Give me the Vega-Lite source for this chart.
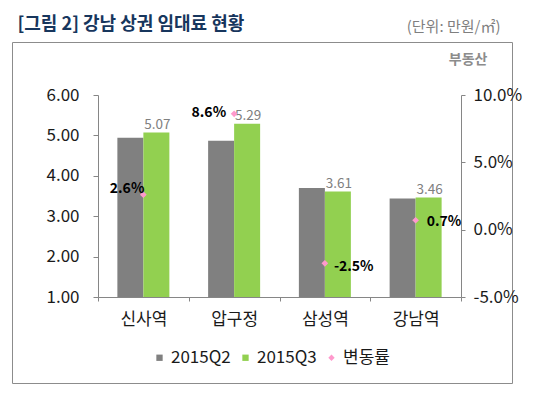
{
  "$schema": "https://vega.github.io/schema/vega-lite/v6.json",
  "width": 500,
  "height": 341,
  "autosize": "none",
  "padding": {"left": 12, "top": 42, "right": 33, "bottom": 14},
  "config": {
    "view": {"stroke": "#8c8c8c", "strokeWidth": 1},
    "font": "Noto Sans CJK KR",
    "locale": {"number": {"decimal": ".", "thousands": ",", "grouping": [3], "currency": ["", ""], "minus": "-"}},
    "axis": {"grid": false, "domainColor": "#868686", "tickColor": "#868686", "labelColor": "#1a1a1a", "labelFontSize": 17, "labelFont": "Noto Sans CJK KR", "titleFont": "Noto Sans CJK KR"},
    "legend": {"orient": "none", "legendX": 139, "legendY": 307, "direction": "horizontal", "labelFontSize": 17, "labelColor": "#1a1a1a", "labelOffset": 3, "columnPadding": 6, "symbolSize": 40, "symbolStrokeWidth": 0}
  },
  "datasets": {
    "rent": [
      {"station": "신사역", "series": "2015Q2", "value": 4.94},
      {"station": "신사역", "series": "2015Q3", "value": 5.07},
      {"station": "압구정", "series": "2015Q2", "value": 4.87},
      {"station": "압구정", "series": "2015Q3", "value": 5.29},
      {"station": "삼성역", "series": "2015Q2", "value": 3.70},
      {"station": "삼성역", "series": "2015Q3", "value": 3.61},
      {"station": "강남역", "series": "2015Q2", "value": 3.44},
      {"station": "강남역", "series": "2015Q3", "value": 3.46}
    ],
    "change": [
      {"station": "신사역", "series": "변동률", "pct": 0.026},
      {"station": "압구정", "series": "변동률", "pct": 0.086},
      {"station": "삼성역", "series": "변동률", "pct": -0.025},
      {"station": "강남역", "series": "변동률", "pct": 0.007}
    ]
  },
  "layer": [
    {
      "data": {"name": "rent"},
      "layer": [
        {
          "mark": {"type": "bar"},
          "encoding": {
            "x": {
              "field": "station", "type": "nominal",
              "sort": ["신사역", "압구정", "삼성역", "강남역"],
              "scale": {"range": [86, 449], "paddingInner": 0, "paddingOuter": 0},
              "axis": {
                "orient": "bottom", "offset": -86, "tickBand": "extent", "tickSize": 4,
                "labelPadding": 10, "labelAngle": 0, "labelFontSize": 17,
                "title": "부동산", "titleX": 475, "titleY": -234, "titleAlign": "right",
                "titleBaseline": "alphabetic", "titleColor": "#8c8c8c", "titleFontSize": 14, "titleFontWeight": "bold"
              }
            },
            "xOffset": {
              "field": "series", "type": "nominal", "sort": ["2015Q2", "2015Q3"],
              "scale": {"paddingOuter": 0.745, "paddingInner": 0}
            },
            "y": {
              "field": "value", "type": "quantitative",
              "scale": {"domain": [1, 6], "range": [255, 53], "clamp": true, "zero": false, "nice": false},
              "axis": {
                "orient": "left", "offset": -86, "values": [1, 2, 3, 4, 5, 6], "format": ".2f",
                "tickSize": 5, "labelPadding": 14,
                "title": "[그림 2] 강남 상권 임대료 현황", "titleAngle": 0, "titleAlign": "left",
                "titleBaseline": "alphabetic", "titleX": -81, "titleY": -13,
                "titleFontSize": 18, "titleFontWeight": "bold", "titleColor": "#17365D"
              }
            },
            "color": {
              "field": "series", "type": "nominal",
              "scale": {"domain": ["2015Q2", "2015Q3", "변동률"], "range": ["#808080", "#92D050", "#FF99CC"]},
              "legend": {"title": null}
            }
          }
        },
        {
          "transform": [{"filter": "datum.series === '2015Q3'"}],
          "mark": {"type": "text", "baseline": "alphabetic", "dy": -4, "dx": 1, "fontSize": 13.5, "color": "#808080"},
          "encoding": {
            "x": {"field": "station", "type": "nominal", "sort": ["신사역", "압구정", "삼성역", "강남역"]},
            "xOffset": {"field": "series", "type": "nominal", "sort": ["2015Q2", "2015Q3"]},
            "y": {"field": "value", "type": "quantitative"},
            "text": {"field": "value", "type": "quantitative", "format": ".2f"}
          }
        }
      ]
    },
    {
      "data": {"name": "change"},
      "encoding": {
        "x": {"field": "station", "type": "nominal", "sort": ["신사역", "압구정", "삼성역", "강남역"]},
        "y": {
          "field": "pct", "type": "quantitative",
          "scale": {"domain": [-0.05, 0.1], "range": [255, 53], "zero": false, "nice": false},
          "axis": {
            "orient": "right", "offset": -51, "values": [-0.05, 0, 0.05, 0.1], "format": ".1%",
            "tickSize": 4, "labelPadding": 8,
            "title": "(단위: 만원/㎡)", "titleAngle": 0, "titleAlign": "right", "titleBaseline": "alphabetic",
            "titleX": 39, "titleY": -11, "titleFontSize": 15, "titleFontWeight": "normal", "titleColor": "#7f7f7f"
          }
        }
      },
      "layer": [
        {
          "mark": {"type": "point", "filled": true, "size": 45, "opacity": 1},
          "encoding": {
            "color": {
              "field": "series", "type": "nominal",
              "scale": {"domain": ["2015Q2", "2015Q3", "변동률"], "range": ["#808080", "#92D050", "#FF99CC"]},
              "legend": {"title": null}
            },
            "shape": {
              "field": "series", "type": "nominal",
              "scale": {"domain": ["2015Q2", "2015Q3", "변동률"], "range": ["square", "square", "diamond"]},
              "legend": {"title": null}
            }
          }
        },
        {
          "transform": [{"filter": "datum.station === '신사역'"}],
          "mark": {"type": "text", "align": "right", "baseline": "alphabetic", "dx": 1, "dy": -2, "fontSize": 14, "fontWeight": "bold", "color": "#000000"},
          "encoding": {"text": {"field": "pct", "type": "quantitative", "format": ".1%"}}
        },
        {
          "transform": [{"filter": "datum.station === '압구정'"}],
          "mark": {"type": "text", "align": "right", "baseline": "alphabetic", "dx": -8, "dy": 3, "fontSize": 14, "fontWeight": "bold", "color": "#000000"},
          "encoding": {"text": {"field": "pct", "type": "quantitative", "format": ".1%"}}
        },
        {
          "transform": [{"filter": "datum.station === '삼성역'"}],
          "mark": {"type": "text", "align": "left", "baseline": "alphabetic", "dx": 9, "dy": 8, "fontSize": 14, "fontWeight": "bold", "color": "#000000"},
          "encoding": {"text": {"field": "pct", "type": "quantitative", "format": ".1%"}}
        },
        {
          "transform": [{"filter": "datum.station === '강남역'"}],
          "mark": {"type": "text", "align": "left", "baseline": "alphabetic", "dx": 11, "dy": 6, "fontSize": 14, "fontWeight": "bold", "color": "#000000"},
          "encoding": {"text": {"field": "pct", "type": "quantitative", "format": ".1%"}}
        }
      ]
    }
  ],
  "resolve": {"scale": {"y": "independent"}}
}
